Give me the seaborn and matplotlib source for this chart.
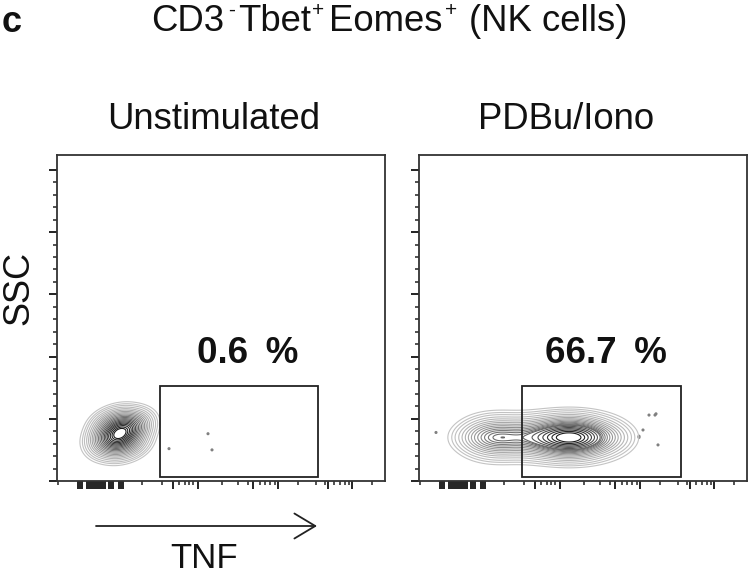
import numpy as np
import pandas as pd
import matplotlib
matplotlib.use("Agg")
import matplotlib.pyplot as plt
from matplotlib.colors import LinearSegmentedColormap
from matplotlib.patches import Rectangle
import seaborn as sns

sns.set_style("white")
plt.rcParams['font.family'] = ['Liberation Sans', 'DejaVu Sans']

# Unstimulated population: TNF channel, SSC (K), weight
unstim_x = [63, 47, 79, 63, 63, 51, 75, 51, 75]
unstim_y = [38, 35, 43, 48, 28, 45, 31, 30, 46]
unstim_w = [3, 1, 1, 1, 1, 1, 1, 1, 1]

# Stimulated population, read as a coarse table: TNF profile x SSC profile
stim_tnf = [45, 60, 75, 90, 105, 120, 135, 150, 165, 180, 195]
stim_tnf_w = [0.04, 0.5, 1.05, 0.8, 0.7, 1.0, 1.6, 2.3, 1.7, 0.75, 0.25]
stim_ssc = [11, 15, 19, 23, 27, 31, 35, 39, 43, 47, 51, 55, 59]
stim_ssc_w = [0.01, 0.04, 0.11, 0.26, 0.52, 0.85, 1.0, 0.85, 0.52, 0.26, 0.11, 0.04, 0.01]

unstim_out_x = [151, 112, 155]
unstim_out_y = [38, 26, 25]
stim_out_x = [17, 230, 237, 224, 220, 239, 220, 236]
stim_out_y = [39, 53, 54, 41, 35, 29, 36, 53]

gate_x = {"Unstimulated": (103, 261), "PDBu/Iono": (103, 262)}
gate_y = (3.2, 76.4)
percent = {"Unstimulated": "0.6 %", "PDBu/Iono": "66.7 %"}
percent_x = {"Unstimulated": 191, "PDBu/Iono": 187}

y_major = [0, 50, 100, 150, 200, 250]
y_minor = [10, 20, 30, 40, 60, 70, 80, 90, 110, 120, 130, 140,
           160, 170, 180, 190, 210, 220, 230, 240]
x_major = [21, 23, 25, 30, 32, 34, 36, 38, 40, 42, 44, 46, 48, 52, 54, 56, 62, 64, 66, 116, 141, 196, 221, 271, 295]
x_minor = [1, 85, 105, 122, 128, 132, 136, 165, 181, 191, 203, 208, 213, 218,
           241, 259, 268, 277, 283, 288, 292, 315]

levels = [0.012, 0.022, 0.035, 0.055, 0.08, 0.11, 0.145, 0.185, 0.23, 0.28, 0.335, 0.39,
          0.45, 0.51, 0.57, 0.63, 0.69, 0.75, 0.81, 0.87, 0.92]
contour_cmap = LinearSegmentedColormap.from_list("flow", ["#c4c4c4", "#858585", "#484848", "#1a1a1a"])

title_parts = ["CD3", "-", "Tbet", "+", "Eomes", "+", "(NK cells)"]
title_sup = [False, True, False, True, False, True, False]
title_px = [151, 228, 238, 312, 329, 445, 469]

fig = plt.figure(figsize=(7.48, 5.75), dpi=100)
W, H = 748, 575


def make_axes(left, right, top=155, bottom=481):
    return fig.add_axes([left / W, 1 - bottom / H, (right - left) / W, (bottom - top) / H])


ax1 = make_axes(57, 385)
ax2 = make_axes(419, 747)

grid_x, grid_y = np.meshgrid(stim_tnf, stim_ssc)
stim_w = np.outer(stim_ssc_w, stim_tnf_w)
unstim_df = pd.DataFrame({"x": unstim_x, "y": unstim_y, "w": unstim_w})
stim_df = pd.DataFrame({"x": grid_x.ravel(), "y": grid_y.ravel(), "w": stim_w.ravel()})

panels = [
    (ax1, "Unstimulated", unstim_df, unstim_out_x, unstim_out_y, 214, 0.95),
    (ax2, "PDBu/Iono", stim_df, stim_out_x, stim_out_y, 566, 0.38),
]

for ax, name, df, ox, oy, tx, bw in panels:
    sns.kdeplot(data=df, x="x", y="y", weights="w", ax=ax, levels=levels, bw_method=bw,
                cmap=contour_cmap, linewidths=0.8, gridsize=250, cut=5)
    sns.scatterplot(x=ox, y=oy, ax=ax, s=5, color="#808080", edgecolor="none", legend=False)
    x0, x1 = gate_x[name]
    ax.add_patch(Rectangle((x0, gate_y[0]), x1 - x0, gate_y[1] - gate_y[0], fill=False,
                           edgecolor="#222222", linewidth=1.3, zorder=5))
    ax.set_xlim(0, 328)
    ax.set_ylim(0, 262)
    ax.set_xlabel("")
    ax.set_ylabel("")
    ax.set_xticks(x_major)
    ax.set_xticks(x_minor, minor=True)
    ax.set_yticks(y_major)
    ax.set_yticks(y_minor, minor=True)
    ax.set_xticklabels([])
    ax.set_yticklabels([])
    ax.tick_params(axis="both", which="major", direction="out", left=True, bottom=True,
                   length=6, width=1.4, color="#222222")
    ax.tick_params(axis="both", which="minor", direction="out", left=True, bottom=True,
                   length=2.8, width=1.2, color="#333333")
    for s in ax.spines.values():
        s.set_visible(True)
        s.set_linewidth(1.3)
        s.set_color("#333333")
    ax.text(0.5 + (tx - (ax.get_position().x0 + ax.get_position().width / 2) * W) / 328, 1.11,
            name, transform=ax.transAxes, ha="center", va="center", fontsize=26.3, color="#111111")
    ax.text(percent_x[name] / 328, 0.39, percent[name].replace(" ", "\u2009 "), transform=ax.transAxes,
            ha="center", va="center", fontsize=26.5, fontweight="bold", color="#111111")


def fx(p):
    return p / W


def fy(p):
    return 1 - p / H


for part, sup, px in zip(title_parts, title_sup, title_px):
    fig.text(fx(px), fy(16 if sup else 31), part, ha="left", va="baseline",
             fontsize=15 if sup else 26.3, color="#111111")
fig.text(fx(2), fy(22), "c", ha="left", va="center", fontsize=26, fontweight="bold", color="#111111")
fig.text(fx(19), fy(288), "SSC", ha="center", va="center", rotation=90, fontsize=26, color="#111111")
fig.text(fx(204), fy(558), "TNF", ha="center", va="center", fontsize=25, color="#111111")
ax1.annotate("", xy=(fx(317), fy(526)), xytext=(fx(96), fy(526)), xycoords="figure fraction",
             textcoords="figure fraction",
             arrowprops=dict(arrowstyle="->,head_length=0.75,head_width=0.45", color="#222222",
                             lw=1.3, mutation_scale=20, shrinkA=0, shrinkB=0))

fig.savefig("out.png", dpi=100)
